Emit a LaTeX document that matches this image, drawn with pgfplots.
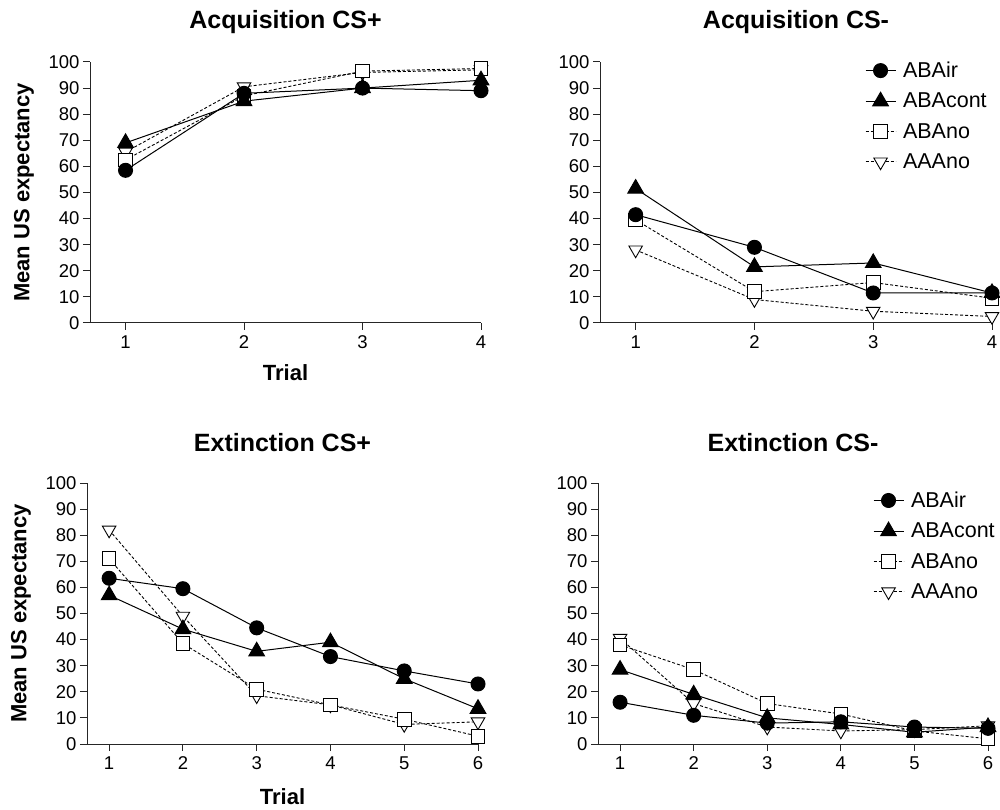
\documentclass[border=0pt]{standalone}
\usepackage{fontspec}
\setmainfont{Liberation Sans}
\usepackage{pgfplots}
\pgfplotsset{compat=1.18}

\pgfplotsset{
  panel/.style={
    scale only axis, width=391pt, height=261pt,
    axis x line=bottom, axis y line=left,
    axis line style={-, line width=1pt, black!85},
    ymin=0, ymax=100, ytick={0,10,...,100},
    xmin=0.7,
    tick align=outside, major tick length=7pt,
    tick style={line width=1pt, black!85},
    tick label style={font=\fontsize{18.5}{21}\selectfont},
    xticklabel style={yshift=-2pt},
    /pgf/number format/assume math mode=true,
    title style={font=\bfseries\fontsize{25}{28}\selectfont,
      at={(0.5,1)}, anchor=center, yshift=34pt},
    label style={font=\bfseries\fontsize{22}{25}\selectfont},
    ylabel style={at={(axis description cs:-0.169,0.5)}, rotate=0, anchor=center},
    xlabel style={at={(axis description cs:0.5,-0.19)}, anchor=center},
    clip=false,
    legend cell align=left,
    reverse legend,
    legend image code/.code={
      \draw[mark repeat=2,mark phase=2] plot coordinates {(0pt,0pt) (15pt,0pt) (30pt,0pt)};},
    legend style={draw=none, fill=none, anchor=north west,
      font=\fontsize{21.5}{24}\selectfont, row sep=12pt, column sep=6pt,
      nodes={inner sep=1pt}},
  },
  abair/.style={black, line width=1pt, solid, mark=*, mark size=7pt,
    mark options={solid, fill=black}},
  abacont/.style={black, line width=1pt, solid, mark=triangle*, mark size=9pt,
    mark options={solid, fill=black}},
  abano/.style={black, line width=0.9pt, dash pattern=on 3pt off 2pt,
    mark=square*, mark size=6.8pt, mark options={solid, fill=white}},
  aaano/.style={black, line width=0.9pt, dash pattern=on 3pt off 2pt,
    mark=triangle*, mark size=7.8pt, mark options={solid, fill=white, rotate=180}},
}

\begin{document}
\begin{tikzpicture}
\useasboundingbox (0pt,0pt) rectangle (1000pt,809pt);

% Acquisition CS+
\begin{axis}[panel, at={(90pt,486pt)}, anchor=south west,
  xmax=4, xtick={1,2,3,4},
  title={Acquisition CS+}, xlabel={Trial}, ylabel={Mean US expectancy}]
\addplot[aaano] coordinates {(1,65.5) (2,90.5) (3,96) (4,97)};
\addplot[abano] coordinates {(1,62.5) (2,87) (3,96.5) (4,97.5)};
\addplot[abacont] coordinates {(1,69) (2,85) (3,90) (4,93)};
\addplot[abair] coordinates {(1,58.5) (2,88) (3,90) (4,89)};
\end{axis}

% Acquisition CS-
\begin{axis}[panel, at={(600pt,486pt)}, anchor=south west, width=392pt,
  xmax=4, xtick={1,2,3,4},
  title={Acquisition CS-},
  legend style={at={(0.668,1.012)}}]
\addplot[aaano] coordinates {(1,28) (2,9) (3,4.5) (4,2.5)};
\addplot[abano] coordinates {(1,39.5) (2,12) (3,15.5) (4,9.5)};
\addplot[abacont] coordinates {(1,51.5) (2,21.5) (3,23) (4,11.5)};
\addplot[abair] coordinates {(1,41.5) (2,29) (3,11.5) (4,11.5)};
\legend{AAAno,ABAno,ABAcont,ABAir}
\end{axis}

% Extinction CS+
\begin{axis}[panel, at={(87pt,65pt)}, anchor=south west,
  xmax=6, xtick={1,...,6},
  title={Extinction CS+}, xlabel={Trial}, ylabel={Mean US expectancy},
  xlabel style={at={(axis description cs:0.5,-0.2)}}]
\addplot[aaano] coordinates {(1,82) (2,49) (3,18.5) (4,15) (5,7.5) (6,8.5)};
\addplot[abano] coordinates {(1,71) (2,38.5) (3,21) (4,15) (5,9.5) (6,3)};
\addplot[abacont] coordinates {(1,57) (2,44) (3,35.5) (4,39) (5,25) (6,13.5)};
\addplot[abair] coordinates {(1,63.5) (2,59.5) (3,44.5) (4,33.5) (5,28) (6,23)};
\end{axis}

% Extinction CS-
\begin{axis}[panel, at={(598pt,65pt)}, anchor=south west, width=390pt,
  xmax=6, xtick={1,...,6},
  title={Extinction CS-},
  legend style={at={(0.697,0.978)}}]
\addplot[aaano] coordinates {(1,40.5) (2,15.5) (3,6.5) (4,5) (5,5.5) (6,7)};
\addplot[abano] coordinates {(1,38) (2,28.5) (3,15.5) (4,11.5) (5,5) (6,2)};
\addplot[abacont] coordinates {(1,28.5) (2,19) (3,10) (4,7.5) (5,4.5) (6,6.5)};
\addplot[abair] coordinates {(1,16) (2,11) (3,8) (4,8.5) (5,6.5) (6,6)};
\legend{AAAno,ABAno,ABAcont,ABAir}
\end{axis}
\end{tikzpicture}
\end{document}
